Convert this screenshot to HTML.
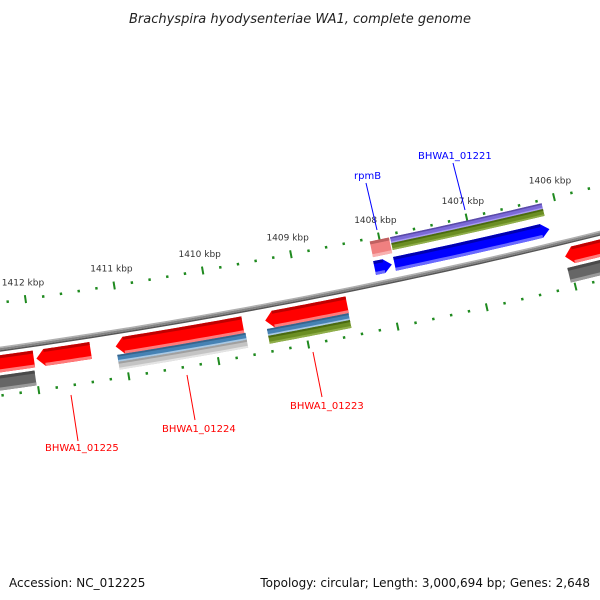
<!DOCTYPE html>
<html><head><meta charset="utf-8"><style>
html,body{margin:0;padding:0;background:#fff;}
svg{display:block;font-family:"DejaVu Sans","Liberation Sans",sans-serif;}
</style></head><body>
<svg id="map" width="600" height="600" viewBox="0 0 600 600" xmlns="http://www.w3.org/2000/svg">
<rect width="600" height="600" fill="#fff"/>
<text x="300" y="23" text-anchor="middle" font-size="13" font-style="italic" fill="#222">Brachyspira hyodysenteriae WA1, complete genome</text>
<g id="ticks"></g>
<g id="backbone"></g>
<g id="features"></g>
<g id="labels">
<line x1="366" y1="183" x2="377" y2="230" stroke="#0000ff" stroke-width="1"/>
<text x="354" y="179" font-size="10" fill="#0000ff">rpmB</text>
<line x1="453" y1="163" x2="465" y2="210" stroke="#0000ff" stroke-width="1"/>
<text x="418" y="159" font-size="10" fill="#0000ff">BHWA1_01221</text>
<line x1="313" y1="352" x2="322" y2="397" stroke="#ff0000" stroke-width="1"/>
<text x="290" y="409" font-size="10" fill="#ff0000">BHWA1_01223</text>
<line x1="187" y1="375" x2="195" y2="420" stroke="#ff0000" stroke-width="1"/>
<text x="162" y="432" font-size="10" fill="#ff0000">BHWA1_01224</text>
<line x1="71" y1="395" x2="78" y2="441" stroke="#ff0000" stroke-width="1"/>
<text x="45" y="451" font-size="10" fill="#ff0000">BHWA1_01225</text>
</g>
<text x="9" y="587" font-size="12" fill="#111">Accession: NC_012225</text>
<text x="590" y="587" font-size="12" fill="#111" text-anchor="end">Topology: circular; Length: 3,000,694 bp; Genes: 2,648</text>
</svg>
<script>
// data
const majorKbp = [1404, 1405, 1406, 1407, 1408, 1409, 1410, 1411, 1412, 1413];
const tickLabels = ["1404 kbp","1405 kbp","1406 kbp","1407 kbp","1408 kbp","1409 kbp","1410 kbp","1411 kbp","1412 kbp","1413 kbp"];
const featNames = ["rpmB-pink","rpmB","BHWA1_01221","BHWA1_01221-purple","BHWA1_01221-green","right-red","right-darkgray","BHWA1_01223","BHWA1_01223-steel","BHWA1_01223-green","BHWA1_01224","BHWA1_01224-steel","BHWA1_01224-gray","BHWA1_01225","left-red","left-darkgray"];
const featStart = [1408111,1408118,1407892,1407880,1407880,1406035,1406040,1409417,1409415,1409415,1411091,1411088,1411088,1411975,1413600,1413600];
const featEnd   = [1407893,1407922,1406132,1406150,1406150,1404500,1404500,1408496,1408500,1408500,1409668,1409655,1409655,1411370,1412003,1412015];
const featRing  = ["o23","o1","o1","o3","o2","i1","i23","i1","i2","i3","i1","i2","i3","i1","i1","i23"];
const featDir   = ["","R","R","","","L","","L","","","L","","","L","",""];
const featColor = ["pink","blue","blue","purple","olive","red","dgray","red","steel","olive","red","steel","lgray","red","red","dgray"];

const CX=-816, CY=-5483, RB=5889;
const ringR = {o1:[RB-23,RB-9],o2:[RB-37,RB-30],o3:[RB-43,RB-37],o23:[RB-43,RB-27],
  i1:[RB+6,RB+23],i2:[RB+23,RB+30],i3:[RB+30,RB+38],i23:[RB+26,RB+41]};
const pal = {red:["#ff0000","#c00000","#ff7a7a"],blue:["#0000ff","#0000b0","#6a6aff"],
  purple:["#7b6ad8","#5a4aa8","#a89af0"],olive:["#6b8e23","#4a6a10","#8fae4a"],
  steel:["#4682b4","#36648c","#a8c8e4"],lgray:["#c4c4c4","#a0a0a0","#e4e4e4"],
  dgray:["#666666","#4a4a4a","#9a9a9a"],pink:["#f08080","#c06060","#f8b0b0"]};
const NS="http://www.w3.org/2000/svg";
function ang(bp){return (79.08+(bp-1409000)/1000*0.88)*Math.PI/180;}
function pt(r,bp){const a=ang(bp);return [CX+r*Math.cos(a),CY+r*Math.sin(a)];}
function arcPts(r,b1,b2,n){const p=[];for(let i=0;i<=n;i++){p.push(pt(r,b1+(b2-b1)*i/n));}return p;}
function poly(p){return p.map(q=>q[0].toFixed(2)+","+q[1].toFixed(2)).join(" ");}
function band(b1,b2,r1,r2,dir){
  const head=90;let s1=b1,s2=b2;
  if(dir==="L")s1=b1-head; if(dir==="R")s2=b2+head;
  let p=arcPts(r1,s1,s2,30);
  if(dir==="R")p.push(pt((r1+r2)/2,b2));
  p=p.concat(arcPts(r2,s2,s1,30));
  if(dir==="L")p.push(pt((r1+r2)/2,b1));
  return {pts:p,s1:s1,s2:s2};
}
// backbone
const bb=document.getElementById("backbone");
[[RB-2.5,RB-1,"#b0b0b0"],[RB-1,RB+1,"#858585"],[RB+1,RB+2.5,"#555"]].forEach((s,i)=>{
  const el=document.createElementNS(NS,"polygon");
  el.setAttribute("points",poly(arcPts(s[0],1414500,1404000,60).concat(arcPts(s[1],1404000,1414500,60))));
  el.setAttribute("fill",s[2]);
  
  
  bb.appendChild(el);
});
// ticks
const tg=document.getElementById("ticks");
[RB-46,RB+46].forEach((rt,ri)=>{
  for(let bp=majorKbp[0]*1000;bp<=majorKbp[majorKbp.length-1]*1000;bp+=200){
    const major=(bp%1000===0);
    const len=major?4:1.3;
    const a=pt(rt-len,bp),b=pt(rt+len,bp);
    const l=document.createElementNS(NS,"line");
    l.setAttribute("x1",a[0]);l.setAttribute("y1",a[1]);l.setAttribute("x2",b[0]);l.setAttribute("y2",b[1]);
    l.setAttribute("stroke","#1f8a1f");l.setAttribute("stroke-width",major?2:2.4);
    
    
    tg.appendChild(l);
  }
});
majorKbp.forEach((k,i)=>{
  const p=pt(RB-63,k*1000);
  const t=document.createElementNS(NS,"text");
  t.setAttribute("x",p[0]);t.setAttribute("y",p[1]+3);
  t.setAttribute("text-anchor","middle");t.setAttribute("font-size","9");t.setAttribute("fill","#333");
  t.textContent=tickLabels[i];
  
  
  tg.appendChild(t);
});
// features
const fg=document.getElementById("features");
featStart.forEach((s,i)=>{
  const rr=ringR[featRing[i]],c=pal[featColor[i]];
  const b=band(s,featEnd[i],rr[0],rr[1],featDir[i]);
  const g=document.createElementNS(NS,"g");
  
  
  const m=document.createElementNS(NS,"polygon");
  m.setAttribute("points",poly(b.pts));m.setAttribute("fill",c[0]);
  
  
  g.appendChild(m);
  const th=Math.min(3,(rr[1]-rr[0])/4);
  const b1=featDir[i]==="L"?b.s1:s, b2=featDir[i]==="R"?b.s2:featEnd[i];
  const top=document.createElementNS(NS,"polygon");
  top.setAttribute("points",poly(arcPts(rr[0],b1,b2,20).concat(arcPts(rr[0]+th,b2,b1,20))));
  top.setAttribute("fill",c[1]);
  
  
  g.appendChild(top);
  const bot=document.createElementNS(NS,"polygon");
  bot.setAttribute("points",poly(arcPts(rr[1]-th,b1,b2,20).concat(arcPts(rr[1],b2,b1,20))));
  bot.setAttribute("fill",c[2]);
  
  
  g.appendChild(bot);
  fg.appendChild(g);
});
</script>
</body></html>
